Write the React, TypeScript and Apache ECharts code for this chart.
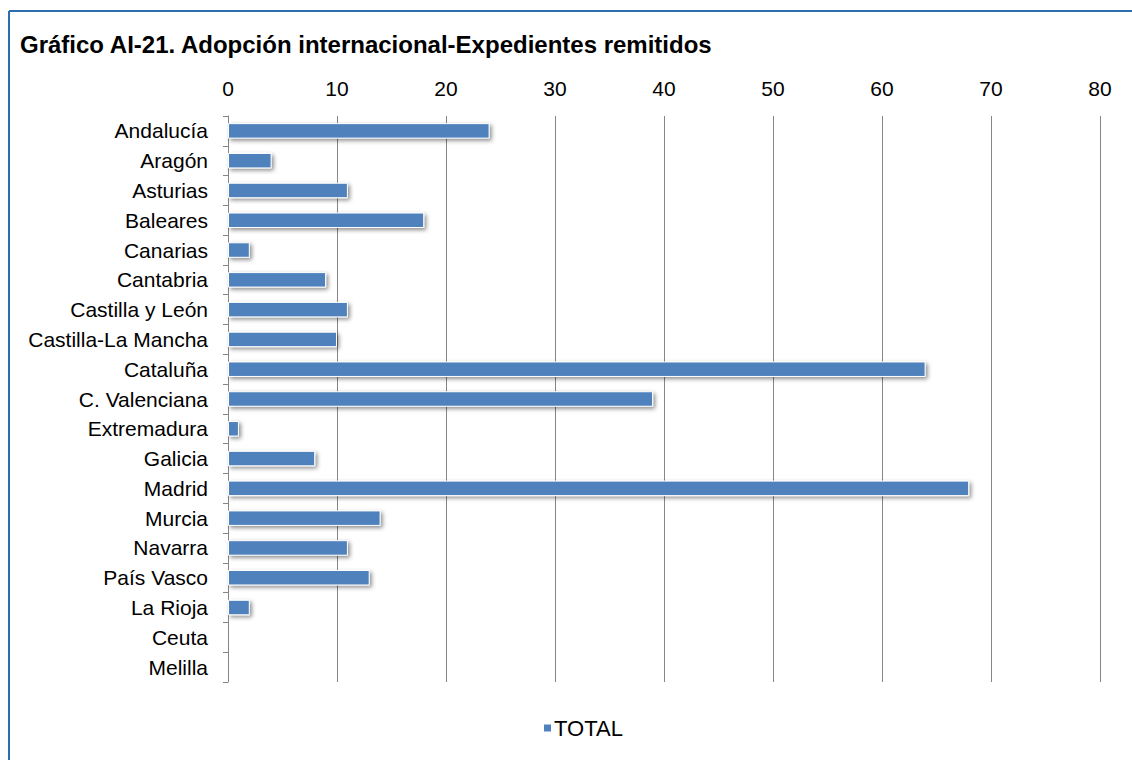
import React, { useEffect, useRef } from "react";
import * as echarts from "echarts";

const categories = [
  "Andalucía", "Aragón", "Asturias", "Baleares", "Canarias", "Cantabria",
  "Castilla y León", "Castilla-La Mancha", "Cataluña", "C. Valenciana",
  "Extremadura", "Galicia", "Madrid", "Murcia", "Navarra", "País Vasco",
  "La Rioja", "Ceuta", "Melilla",
];
const totalValues = [24, 4, 11, 18, 2, 9, 11, 10, 64, 39, 1, 8, 68, 14, 11, 13, 2, 0, 0];
const seriesName = "TOTAL";
const titleText = "Gráfico AI-21. Adopción internacional-Expedientes remitidos";

export default function App() {
  const ref = useRef<HTMLDivElement>(null);
  useEffect(() => {
    document.body.style.margin = "0";
    const chart = echarts.init(ref.current!, null, { renderer: "svg" });
    const font = "'Liberation Sans', Arial, sans-serif";
    chart.setOption({
      animation: false,
      textStyle: { fontFamily: font },
      graphic: [
        { type: "line", shape: { x1: 9, y1: 11, x2: 1132, y2: 11 }, style: { stroke: "#2a6fae", lineWidth: 2 } },
        { type: "line", shape: { x1: 9, y1: 11, x2: 9, y2: 760 }, style: { stroke: "#2a6fae", lineWidth: 2 } },
        {
          type: "text", left: 20, top: 32,
          style: { text: titleText, font: `bold 24px ${font}`, fill: "#000" },
        },
      ],
      legend: {
        bottom: 16, left: 537,
        icon: "rect", itemWidth: 9, itemHeight: 9, itemGap: 4,
        textStyle: { fontSize: 22, color: "#000", fontFamily: font, padding: [0, 0, 0, -3] },
        data: [seriesName],
      },
      grid: { left: 228, right: 32, top: 116, bottom: 78, containLabel: false },
      xAxis: {
        type: "value", position: "top", min: 0, max: 80, interval: 10,
        axisLine: { show: false },
        axisTick: { show: false },
        axisLabel: { fontSize: 21, color: "#000", margin: 17, fontFamily: font },
        splitLine: { show: true, lineStyle: { color: "#868686", width: 1 } },
      },
      yAxis: {
        type: "category", data: categories, inverse: true,
        axisLine: { show: true, lineStyle: { color: "#868686", width: 1 } },
        axisTick: { show: true, length: 5, lineStyle: { color: "#868686" } },
        axisLabel: { fontSize: 21, color: "#000", margin: 20, fontFamily: font },
      },
      series: [
        {
          name: seriesName, type: "bar", data: totalValues, barWidth: "52%",
          itemStyle: {
            color: "#4F81BD", borderColor: "#ffffff", borderWidth: 1,
            shadowColor: "rgba(0,0,0,0.45)", shadowBlur: 4, shadowOffsetX: 2, shadowOffsetY: 2,
          },
        },
      ],
    });
    return () => chart.dispose();
  }, []);
  return <div ref={ref} style={{ width: 1132, height: 760 }} />;
}
